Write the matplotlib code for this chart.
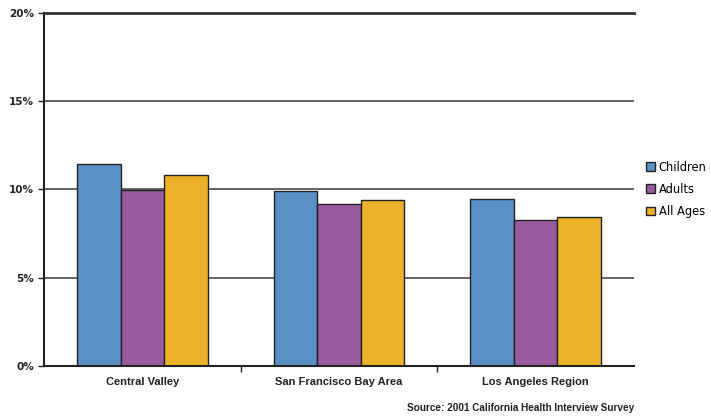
import matplotlib
matplotlib.use("Agg")
import matplotlib.pyplot as plt
import numpy as np
from matplotlib.patches import Patch
from matplotlib.ticker import FixedLocator, NullFormatter

categories = ["Central Valley", "San Francisco Bay Area", "Los Angeles Region"]
series_names = ["Children", "Adults", "All Ages"]
children = [11.45, 9.9, 9.47]
adults = [9.95, 9.2, 8.27]
all_ages = [10.83, 9.42, 8.45]
yticks = [0, 5, 10, 15, 20]
ytick_labels = ["0%", "5%", "10%", "15%", "20%"]
colors = ["#5B8FC5", "#985B9E", "#EBB127"]

fig = plt.figure(figsize=(7.11, 4.16), dpi=100)
ax = fig.add_axes([0.0619, 0.1202, 0.8298, 0.8486])

x = np.arange(len(categories))
w = 0.222
for i, (vals, name, c) in enumerate(zip([children, adults, all_ages], series_names, colors)):
    ax.bar(x + (i - 1) * w, vals, width=w, color=c, edgecolor="#222222", linewidth=1.0, label=name, zorder=3)

ax.set_xlim(-0.5, 2.5)
ax.set_ylim(0, 20)
ax.set_yticks(yticks)
ax.set_yticklabels(ytick_labels, fontsize=7.5, fontweight="bold", color="#222222")
for yv in yticks[1:]:
    ax.axhline(yv, color="#3a3a3a", linewidth=1.1, zorder=1)

ax.set_xticks(x)
ax.set_xticklabels(categories, fontsize=8, fontweight="bold", color="#222222",
                   family=["Liberation Sans", "DejaVu Sans"])
ax.tick_params(axis="x", length=0, pad=8)
ax.xaxis.set_minor_locator(FixedLocator([0.5, 1.5]))
ax.xaxis.set_minor_formatter(NullFormatter())
ax.tick_params(axis="x", which="minor", length=4, width=1, color="#222222")
ax.tick_params(axis="y", length=4, width=1, color="#222222", pad=3)

for s in ["left", "bottom"]:
    ax.spines[s].set_color("#222222")
    ax.spines[s].set_linewidth(1.5)
ax.spines["top"].set_color("#333333")
ax.spines["top"].set_linewidth(2.0)
ax.spines["right"].set_visible(False)
ax.spines["bottom"].set_zorder(4)

handles = [Patch(facecolor=c, edgecolor="#222222", label=n) for c, n in zip(colors, series_names)]
fig.legend(handles=handles, loc="center left", bbox_to_anchor=(0.894, 0.545), frameon=False,
           fontsize=8.3, handlelength=0.8, handleheight=0.8, handletextpad=0.3, labelspacing=0.8)

fig.text(0.8917, 0.008, "Source: 2001 California Health Interview Survey", ha="right", va="bottom",
         fontsize=7.2, fontweight="bold", color="#222222", family=["Liberation Sans", "DejaVu Sans"])

fig.savefig("out.png", dpi=100)
